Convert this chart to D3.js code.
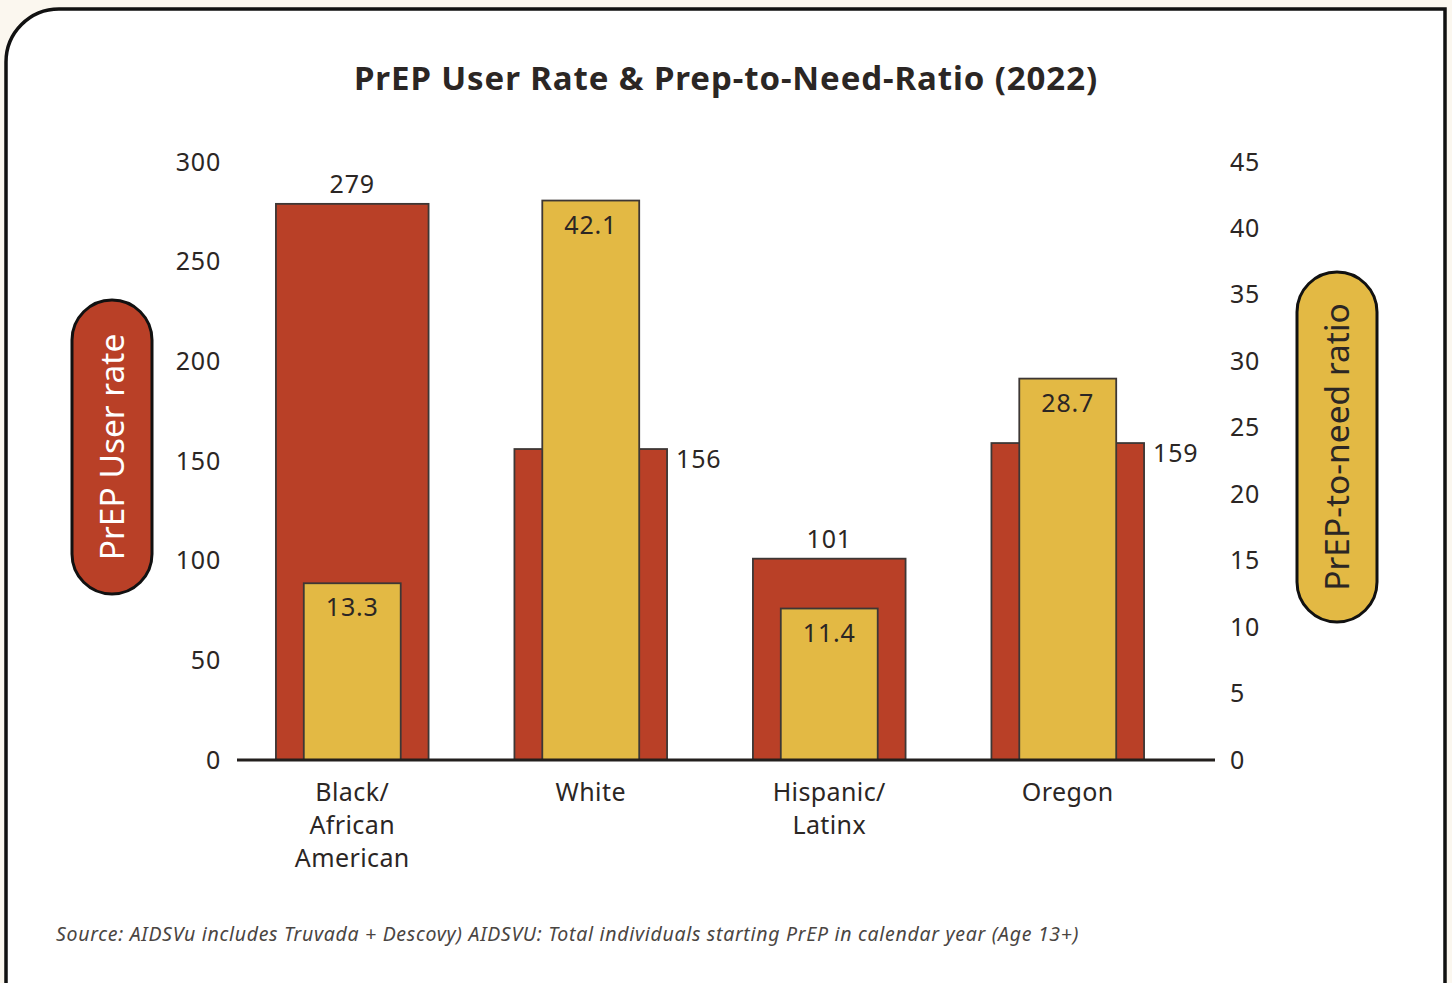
<!DOCTYPE html>
<html>
<head>
<meta charset="utf-8">
<script src="https://cdn.jsdelivr.net/npm/d3@7"></script>
<style>
  html, body { margin: 0; padding: 0; background: #fbf7ef; }
  svg { display: block; font-family: "Noto Sans", "Open Sans", sans-serif; }
</style>
</head>
<body>
<div id="chart"></div>
<script>
// data
var categories = ['Black/\nAfrican\nAmerican', 'White', 'Hispanic/\nLatinx', 'Oregon'];
var userRate = [279, 156, 101, 159];
var prepRatio = [13.3, 42.1, 11.4, 28.7];
var leftTicks = [0, 50, 100, 150, 200, 250, 300];
var rightTicks = [0, 5, 10, 15, 20, 25, 30, 35, 40, 45];

var width = 1452;
var height = 983;
var red = '#b94027';
var yellow = '#e3b944';
var ink = '#2b2624';
var font = '"Noto Sans", "Open Sans", sans-serif';

var svg = d3.select('#chart')
  .append('svg')
  .attr('width', width)
  .attr('height', height);

// card with rounded top-left corner
svg.append('path')
  .attr('d', 'M6,990 V62 A53,53 0 0 1 59,9 H1445 V990')
  .attr('fill', '#ffffff')
  .attr('stroke', '#111')
  .attr('stroke-width', 3.5);

svg.append('text')
  .attr('x', 726)
  .attr('y', 90)
  .attr('text-anchor', 'middle')
  .attr('font-size', 33)
  .attr('font-weight', 'bold')
  .attr('letter-spacing', 0.9)
  .attr('fill', ink)
  .text('PrEP User Rate & Prep-to-Need-Ratio (2022)');

// scales
var x = d3.scaleBand()
  .domain(categories)
  .range([233, 1187])
  .paddingInner(0.36)
  .paddingOuter(0.18);

var yLeft = d3.scaleLinear().domain([0, 300]).range([760, 162]);
var yRight = d3.scaleLinear().domain([0, 45]).range([760, 162]);

var innerW = x.bandwidth() * 0.635;

// axes (labels only)
var leftAxis = svg.append('g')
  .attr('transform', 'translate(221,0)')
  .call(d3.axisLeft(yLeft).tickValues(leftTicks).tickSize(0).tickPadding(0));
var rightAxis = svg.append('g')
  .attr('transform', 'translate(1230,0)')
  .call(d3.axisRight(yRight).tickValues(rightTicks).tickSize(0).tickPadding(0));

[leftAxis, rightAxis].forEach(function(g) {
  g.select('.domain').remove();
  g.selectAll('text')
    .attr('font-size', 25)
    .attr('letter-spacing', 0.8)
    .attr('font-family', font)
    .attr('fill', ink);
});

// red bars (user rate)
var groups = svg.selectAll('.cat')
  .data(categories)
  .enter()
  .append('g')
  .attr('class', 'cat');

groups.append('rect')
  .attr('x', function(d) { return x(d); })
  .attr('y', function(d, i) { return yLeft(userRate[i]); })
  .attr('width', x.bandwidth())
  .attr('height', function(d, i) { return 760 - yLeft(userRate[i]); })
  .attr('fill', red)
  .attr('stroke', '#3d3735')
  .attr('stroke-width', 1.8);

// yellow bars (ratio)
groups.append('rect')
  .attr('x', function(d) { return x(d) + (x.bandwidth() - innerW) / 2; })
  .attr('y', function(d, i) { return yRight(prepRatio[i]); })
  .attr('width', innerW)
  .attr('height', function(d, i) { return 760 - yRight(prepRatio[i]); })
  .attr('fill', yellow)
  .attr('stroke', '#3d3735')
  .attr('stroke-width', 1.8);

// red value labels: above bar unless the yellow bar is taller
function beside(i) { return yRight(prepRatio[i]) < yLeft(userRate[i]); }

groups.append('text')
  .attr('font-size', 25)
  .attr('letter-spacing', 0.8)
  .attr('fill', ink)
  .attr('text-anchor', function(d, i) { return beside(i) ? 'start' : 'middle'; })
  .attr('x', function(d, i) {
    return beside(i) ? x(d) + x.bandwidth() + 9 : x(d) + x.bandwidth() / 2;
  })
  .attr('y', function(d, i) {
    return beside(i) ? yLeft(userRate[i]) + 19 : yLeft(userRate[i]) - 11;
  })
  .text(function(d, i) { return userRate[i]; });

// yellow value labels inside
groups.append('text')
  .attr('font-size', 25)
  .attr('letter-spacing', 0.8)
  .attr('fill', ink)
  .attr('text-anchor', 'middle')
  .attr('x', function(d) { return x(d) + x.bandwidth() / 2; })
  .attr('y', function(d, i) { return yRight(prepRatio[i]) + 33; })
  .text(function(d, i) { return prepRatio[i]; });

// baseline
svg.append('line')
  .attr('x1', 237)
  .attr('x2', 1215)
  .attr('y1', 760)
  .attr('y2', 760)
  .attr('stroke', '#231f1d')
  .attr('stroke-width', 3);

// category labels
groups.append('text')
  .attr('font-size', 25)
  .attr('letter-spacing', 0.4)
  .attr('fill', ink)
  .attr('text-anchor', 'middle')
  .selectAll('tspan')
  .data(function(d) { return d.split('\n').map(function(s) { return { s: s, c: d }; }); })
  .enter()
  .append('tspan')
  .attr('x', function(d) { return x(d.c) + x.bandwidth() / 2; })
  .attr('y', function(d, i) { return 801 + i * 33; })
  .text(function(d) { return d.s; });

// axis title pills
var pills = [
  { label: 'PrEP User rate', cx: 112, cy: 447, h: 294, fill: red, color: '#ffffff' },
  { label: 'PrEP-to-need ratio', cx: 1337, cy: 447, h: 350, fill: yellow, color: ink }
];

var pill = svg.selectAll('.pill')
  .data(pills)
  .enter()
  .append('g')
  .attr('class', 'pill')
  .attr('transform', function(d) { return 'translate(' + d.cx + ',' + d.cy + ')'; });

pill.append('rect')
  .attr('x', -40)
  .attr('y', function(d) { return -d.h / 2; })
  .attr('width', 80)
  .attr('height', function(d) { return d.h; })
  .attr('rx', 40)
  .attr('fill', function(d) { return d.fill; })
  .attr('stroke', '#111')
  .attr('stroke-width', 3);

pill.append('text')
  .attr('transform', 'rotate(-90)')
  .attr('text-anchor', 'middle')
  .attr('dy', '0.36em')
  .attr('font-size', 33.5)
  .attr('fill', function(d) { return d.color; })
  .text(function(d) { return d.label; });

// source
svg.append('text')
  .attr('x', 56)
  .attr('y', 941)
  .attr('font-size', 19.5)
  .attr('letter-spacing', 0.7)
  .attr('font-style', 'italic')
  .attr('fill', '#4a4542')
  .text('Source: AIDSVu includes Truvada + Descovy) AIDSVU: Total individuals starting PrEP in calendar year (Age 13+)');
</script>
</body>
</html>
